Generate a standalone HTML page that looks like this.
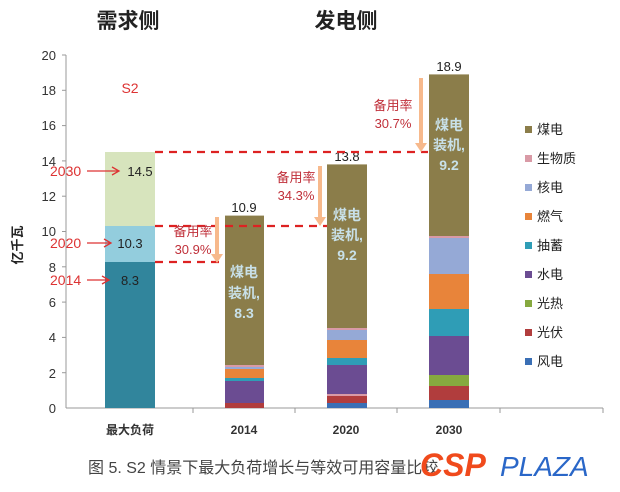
<!DOCTYPE html>
<html><head><meta charset="utf-8"><style>
body{margin:0;background:#fff;width:620px;height:487px;overflow:hidden}
text{font-family:"Liberation Sans","Noto Sans CJK SC",sans-serif}
</style></head><body>
<svg width="620" height="487" viewBox="0 0 620 487">
<rect width="620" height="487" fill="#fff"/>
<text x="128" y="28" font-size="21" font-weight="bold" text-anchor="middle" fill="#222">需求侧</text>
<text x="346" y="28" font-size="21" font-weight="bold" text-anchor="middle" fill="#222">发电侧</text>
<line x1="66" y1="55" x2="66" y2="408" stroke="#999"/>
<line x1="66" y1="408" x2="603" y2="408" stroke="#999"/>
<g stroke="#999">
<line x1="62" y1="55" x2="66" y2="55"/><line x1="62" y1="90.3" x2="66" y2="90.3"/><line x1="62" y1="125.6" x2="66" y2="125.6"/><line x1="62" y1="160.9" x2="66" y2="160.9"/><line x1="62" y1="196.2" x2="66" y2="196.2"/><line x1="62" y1="231.5" x2="66" y2="231.5"/><line x1="62" y1="266.8" x2="66" y2="266.8"/><line x1="62" y1="302.1" x2="66" y2="302.1"/><line x1="62" y1="337.4" x2="66" y2="337.4"/><line x1="62" y1="372.7" x2="66" y2="372.7"/>
<line x1="193" y1="408" x2="193" y2="413"/><line x1="295" y1="408" x2="295" y2="413"/><line x1="397" y1="408" x2="397" y2="413"/><line x1="500" y1="408" x2="500" y2="413"/><line x1="603" y1="408" x2="603" y2="413"/>
</g>
<g font-size="13" fill="#333" text-anchor="end">
<text x="56" y="60">20</text><text x="56" y="95">18</text><text x="56" y="130">16</text><text x="56" y="166">14</text><text x="56" y="201">12</text><text x="56" y="236">10</text><text x="56" y="272">8</text><text x="56" y="307">6</text><text x="56" y="342">4</text><text x="56" y="378">2</text><text x="56" y="413">0</text>
</g>
<text transform="translate(22,245) rotate(-90)" font-size="13" font-weight="bold" text-anchor="middle" fill="#222">亿千瓦</text>
<g font-size="12" font-weight="bold" fill="#333" text-anchor="middle">
<text x="130" y="434">最大负荷</text><text x="244" y="434">2014</text><text x="346" y="434">2020</text><text x="449" y="434">2030</text>
</g>
<rect x="105" y="152" width="50" height="74" fill="#d7e4bd"/>
<rect x="105" y="226" width="50" height="36" fill="#93cddd"/>
<rect x="105" y="262" width="50" height="146" fill="#31859c"/>
<text x="130" y="93" font-size="14" fill="#d33" text-anchor="middle">S2</text>
<g font-size="13" fill="#222" text-anchor="middle"><text x="140" y="176">14.5</text><text x="130" y="248">10.3</text><text x="130" y="285">8.3</text></g>
<g font-size="14" fill="#d33"><text x="50" y="176">2030</text><text x="50" y="248">2020</text><text x="50" y="285">2014</text></g>
<g stroke="#d33" stroke-width="1.3" fill="none"><line x1="87" y1="171" x2="118" y2="171"/><path d="M112,167 L119,171 L112,175"/><line x1="87" y1="243" x2="110" y2="243"/><path d="M104,239 L111,243 L104,247"/><line x1="87" y1="280" x2="108" y2="280"/><path d="M102,276 L109,280 L102,284"/></g>
<rect x="225" y="215.6" width="39" height="149.4" fill="#8b7d4a"/>
<rect x="225" y="365" width="39" height="2" fill="#d99aa6"/>
<rect x="225" y="367" width="39" height="2" fill="#95a9d6"/>
<rect x="225" y="369" width="39" height="9" fill="#e8843a"/>
<rect x="225" y="378" width="39" height="3" fill="#2f9db6"/>
<rect x="225" y="381" width="39" height="22" fill="#6b4c92"/>
<rect x="225" y="403" width="39" height="5" fill="#b13d3d"/>
<rect x="327" y="164.4" width="40" height="163.6" fill="#8b7d4a"/>
<rect x="327" y="328" width="40" height="2" fill="#d99aa6"/>
<rect x="327" y="330" width="40" height="10" fill="#95a9d6"/>
<rect x="327" y="340" width="40" height="18" fill="#e8843a"/>
<rect x="327" y="358" width="40" height="7" fill="#2f9db6"/>
<rect x="327" y="365" width="40" height="29" fill="#6b4c92"/>
<rect x="327" y="394" width="40" height="2" fill="#d99aa6"/>
<rect x="327" y="396" width="40" height="7" fill="#b13d3d"/>
<rect x="327" y="403" width="40" height="5" fill="#3a6fb5"/>
<rect x="429" y="74.4" width="40" height="161.6" fill="#8b7d4a"/>
<rect x="429" y="236" width="40" height="2" fill="#d99aa6"/>
<rect x="429" y="238" width="40" height="36" fill="#95a9d6"/>
<rect x="429" y="274" width="40" height="35" fill="#e8843a"/>
<rect x="429" y="309" width="40" height="27" fill="#2f9db6"/>
<rect x="429" y="336" width="40" height="39" fill="#6b4c92"/>
<rect x="429" y="375" width="40" height="11" fill="#86a93f"/>
<rect x="429" y="386" width="40" height="14" fill="#b13d3d"/>
<rect x="429" y="400" width="40" height="8" fill="#3a6fb5"/>
<g font-size="13" fill="#222" text-anchor="middle"><text x="244" y="212">10.9</text><text x="347" y="161">13.8</text><text x="449" y="71">18.9</text></g>
<g font-size="14" font-weight="bold" fill="#c8e0e8" text-anchor="middle">
<text x="244" y="277">煤电</text><text x="244" y="298">装机,</text><text x="244" y="318">8.3</text>
<text x="347" y="220">煤电</text><text x="347" y="240">装机,</text><text x="347" y="260">9.2</text>
<text x="449" y="130">煤电</text><text x="449" y="150">装机,</text><text x="449" y="170">9.2</text>
</g>
<g stroke="#d22" stroke-width="2.2" stroke-dasharray="8,6"><line x1="155" y1="152" x2="428" y2="152"/><line x1="155" y1="226" x2="327" y2="226"/><line x1="155" y1="262" x2="225" y2="262"/></g>
<g fill="#f7b98c"><rect x="215" y="217" width="4" height="38"/><path d="M211,254 L223,254 L217,263Z"/>
<rect x="318" y="166" width="4" height="52"/><path d="M314,217 L326,217 L320,226Z"/>
<rect x="419" y="78" width="4" height="66"/><path d="M415,143 L427,143 L421,152Z"/></g>
<g font-size="13" fill="#c0303a" text-anchor="middle">
<text x="193" y="236">备用率</text><text x="193" y="254">30.9%</text>
<text x="296" y="182">备用率</text><text x="296" y="200">34.3%</text>
<text x="393" y="110">备用率</text><text x="393" y="128">30.7%</text>
</g>
<g font-size="13" fill="#222">
<rect x="525" y="126" width="7" height="7" fill="#8b7d4a"/><text x="537" y="134">煤电</text>
<rect x="525" y="155" width="7" height="7" fill="#d99aa6"/><text x="537" y="163">生物质</text>
<rect x="525" y="184" width="7" height="7" fill="#95a9d6"/><text x="537" y="192">核电</text>
<rect x="525" y="213" width="7" height="7" fill="#e8843a"/><text x="537" y="221">燃气</text>
<rect x="525" y="242" width="7" height="7" fill="#2f9db6"/><text x="537" y="250">抽蓄</text>
<rect x="525" y="271" width="7" height="7" fill="#6b4c92"/><text x="537" y="279">水电</text>
<rect x="525" y="300" width="7" height="7" fill="#86a93f"/><text x="537" y="308">光热</text>
<rect x="525" y="329" width="7" height="7" fill="#b13d3d"/><text x="537" y="337">光伏</text>
<rect x="525" y="358" width="7" height="7" fill="#3a6fb5"/><text x="537" y="366">风电</text>
</g>
<text x="88" y="473" font-size="16" fill="#444" font-family="Liberation Serif,'Noto Serif CJK SC',serif">图 5. S2 情景下最大负荷增长与等效可用容量比较</text>
<text x="420" y="476" font-size="32" font-weight="bold" font-style="italic" fill="#f04a1c">CSP</text>
<text x="500" y="476" font-size="28" font-style="italic" fill="#2a67c8">PLAZA</text>
</svg>
</body></html>
